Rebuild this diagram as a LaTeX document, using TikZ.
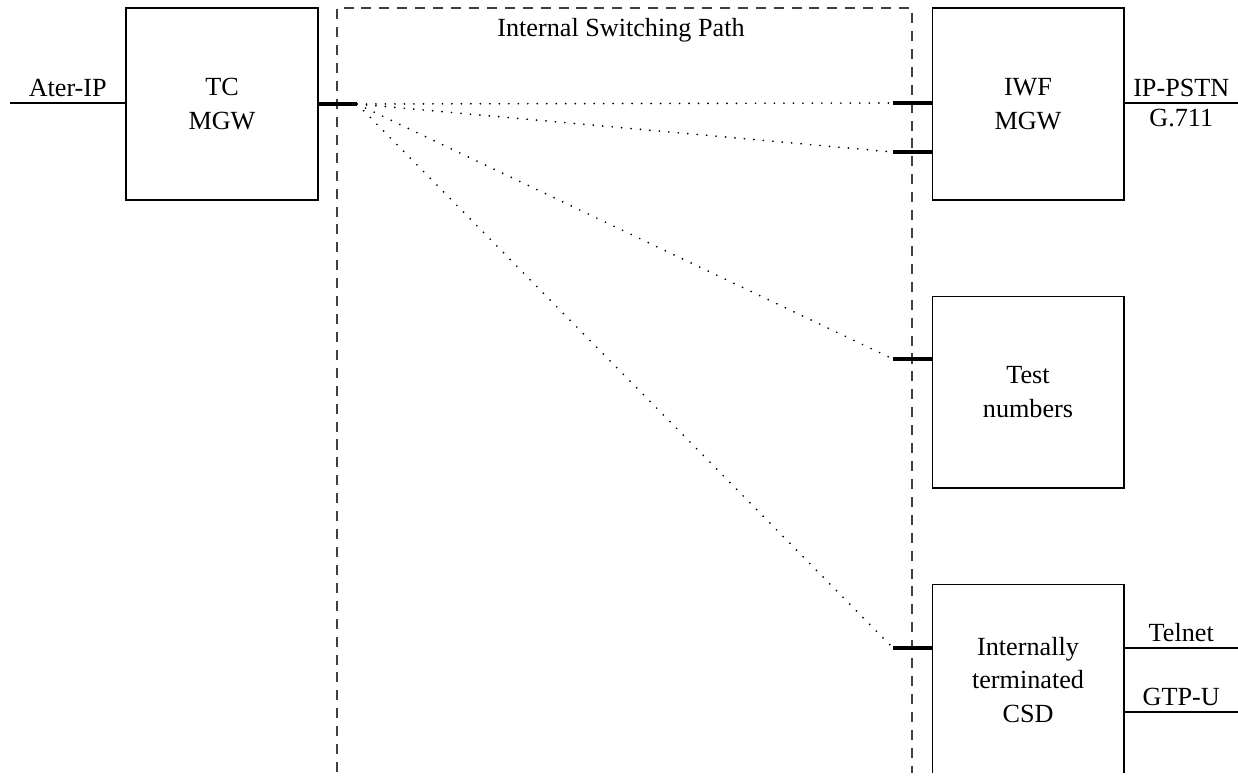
\documentclass[tikz,border=0pt]{standalone}
\usepackage{fontspec}
\setmainfont{Liberation Serif}
\usetikzlibrary{calc}

\begin{document}
\begin{tikzpicture}[x=0.02cm,y=-0.02cm,
  txt/.style={font=\fontsize{14.9}{19.3}\selectfont},
  box/.style={draw,line width=0.6pt,minimum width=3.84cm,minimum height=3.84cm,
    align=center,inner sep=0pt,txt},
  port/.style={line width=2.1pt},
  link/.style={line width=1.1pt,dash pattern=on 0pt off 5.4pt,line cap=round},
  area/.style={line width=0.6pt,black!75,dash pattern=on 5.7pt off 4.5pt},
  wire/.style={line width=0.6pt}]
  % Picture frame
  \useasboundingbox (0,0) rectangle (1238,775);
  \clip (-5,-5) rectangle (1243,772);

  % Internal switching path region (open at the bottom)
  \draw[area] (337,790) -- (337,8) -- (912,8) -- (912,790);
  \node[txt] (swpath) at (621,30) {Internal Switching Path};

  % Media gateways and terminations
  \node[box] (tc) at (222,104) {TC\\MGW};
  \node[box] (iwf) at (1028,104) {IWF\\MGW};
  \node[box] (test) at (1028,392) {Test\\numbers};
  \node[box] (csd) at (1028,680) {Internally\\terminated\\CSD};

  % Ports on the switching path
  \coordinate (tcp) at (357,104);
  \coordinate (iwfa) at (893,103);
  \coordinate (iwfb) at (893,152);
  \coordinate (testp) at (893,359);
  \coordinate (csdp) at (893,648);
  \draw[port] (tc.east) -- (tcp);
  \draw[port] (iwfa) -- (iwfa -| iwf.west);
  \draw[port] (iwfb) -- (iwfb -| iwf.west);
  \draw[port] (testp) -- (testp -| test.west);
  \draw[port] (csdp) -- (csdp -| csd.west);

  % Switched connections
  \draw[link] (tcp) -- (iwfa);
  \draw[link] (tcp) -- (iwfb);
  \draw[link] (tcp) -- (testp);
  \draw[link] (tcp) -- (csdp);

  % External interfaces
  \coordinate (ater) at (10,103);
  \coordinate (pstn) at (1238,103);
  \coordinate (telnet) at (1238,648);
  \coordinate (gtpu) at (1238,712);
  \draw[wire] (ater) -- (ater -| tc.west)
    node[midway,above,txt] (aterlbl) {Ater-IP};
  \draw[wire] (pstn -| iwf.east) -- (pstn)
    node[midway,above,txt] (pstnlbl) {IP-PSTN}
    node[midway,below,txt] (g711lbl) {G.711};
  \draw[wire] (telnet -| csd.east) -- (telnet)
    node[midway,above,txt] (telnetlbl) {Telnet};
  \draw[wire] (gtpu -| csd.east) -- (gtpu)
    node[midway,above,txt] (gtpulbl) {GTP-U};
\end{tikzpicture}
\end{document}
